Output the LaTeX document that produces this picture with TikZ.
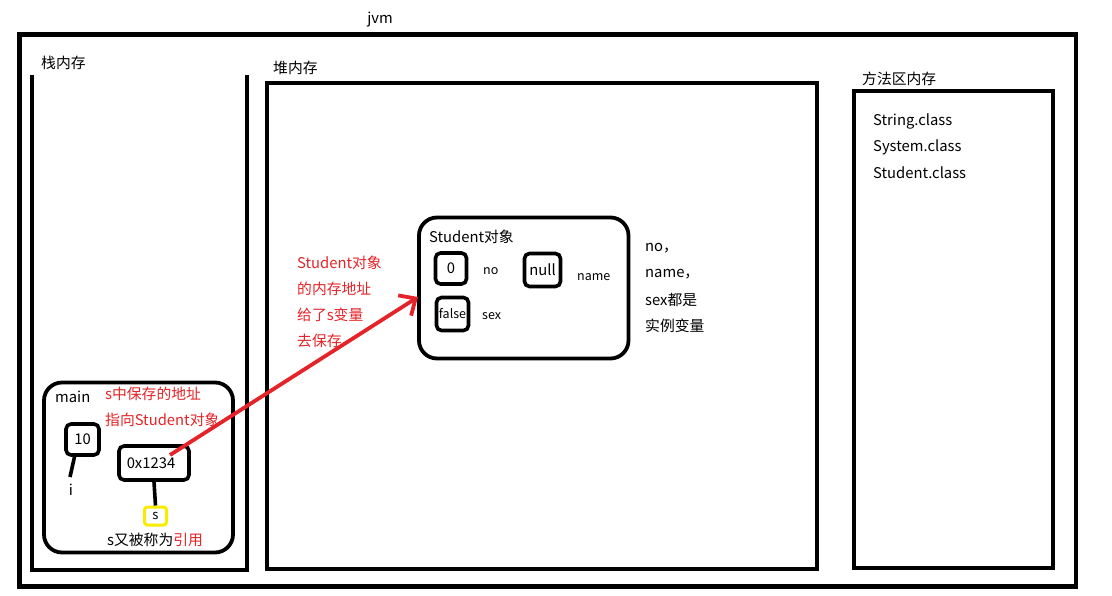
\documentclass[tikz,border=0pt]{standalone}
\usepackage{fontspec}
\setmainfont{Noto Sans CJK SC}
\usetikzlibrary{arrows.meta}
\definecolor{myred}{RGB}{228,36,40}
\definecolor{myyellow}{RGB}{250,235,0}
\tikzset{
  frame/.style={draw=black,line width=4.5pt},
  txt/.style={font=\fontsize{14.8}{16}\selectfont,inner sep=0pt,anchor=west},
  small/.style={font=\fontsize{12.5}{14}\selectfont,inner sep=0pt,anchor=west},
  rtxt/.style={txt,text=myred},
  cell/.style={draw=black,line width=3.6pt,rounded corners=5pt,inner sep=0pt,font=\fontsize{14.8}{16}\selectfont},
  stem/.style={draw=black,line width=3.6pt},
  ptr/.style={draw=myred,line width=3.8pt,-{Straight Barb[length=13pt,width=24pt,line width=3.8pt]}}
}
\begin{document}
\begin{tikzpicture}[x=1pt,y=-1pt]
\useasboundingbox[fill=white] (0,0) rectangle (1112,595);
% outer jvm
\draw[frame] (19.5,34.5) rectangle (1076,586.5);
\node[txt,anchor=center] (jvm) at (380,20) {jvm};
% stack
\draw[frame,line width=4pt] (32,75) -- (32,569.5) -- (246.5,569.5) -- (246.5,75);
\node[txt] (stackl) at (41,63) {栈内存};
% heap
\draw[frame,line width=4pt] (267,83) rectangle (817,568.5);
\node[txt] (heapl) at (273,68) {堆内存};
% method area
\draw[frame,line width=4pt] (853.5,91) rectangle (1053,567.5);
\node[txt] (methl) at (862,79) {方法区内存};
\node[txt] (c1) at (873,121) {String.class};
\node[txt] (c2) at (873,147) {System.class};
\node[txt] (c3) at (873,173) {Student.class};
% Student object
\draw[frame,line width=3.8pt,rounded corners=18pt] (419,217.5) rectangle (628.5,358.5);
\coordinate (objw) at (418,297);
\node[txt] (objl) at (429,237) {Student对象};
\node[cell,minimum width=31pt,minimum height=31pt] (no) at (451,268.5) {0};
\node[small] (nol) at (483,271) {no};
\node[cell,minimum width=36pt,minimum height=33pt] (name) at (542.5,270) {null};
\node[small] (namel) at (577,277) {name};
\node[cell,minimum width=32pt,minimum height=33pt,font=\fontsize{12.5}{14}\selectfont] (sex) at (452.5,314) {false};
\node[small] (sexl) at (482,316) {sex};
\node[txt] (r1) at (645,248) {no，};
\node[txt] (r2) at (645,274) {name，};
\node[txt] (r3) at (645,300) {sex都是};
\node[txt] (r4) at (645,326) {实例变量};
% red note
\node[rtxt] (n1) at (297,263) {Student对象};
\node[rtxt] (n2) at (297,289) {的内存地址};
\node[rtxt] (n3) at (297,315) {给了s变量};
\node[rtxt] (n4) at (297,341) {去保存};
% main frame
\draw[frame,line width=3.8pt,rounded corners=18pt] (44,382.5) rectangle (233,552.5);
\node[txt] (mainl) at (55,397) {main};
\node[rtxt] (m1) at (105,394) {s中保存的地址};
\node[rtxt] (m2) at (105,420) {指向Student对象};
\node[cell,minimum width=33pt,minimum height=31pt] (ten) at (82.5,439.5) {10};
\node[txt,anchor=center] (il) at (71,490) {i};
\draw[stem] (ten.south) ++(-8,0) coordinate (ts) -- (70,477) coordinate (te);
\node[cell,minimum width=70pt,minimum height=34pt] (addr) at (154,463) {0x1234\hspace*{6pt}};
\node[draw=myyellow,line width=3pt,rounded corners=3pt,minimum width=22pt,minimum height=18pt,inner sep=0pt,font=\fontsize{13}{14}\selectfont] (s) at (155.5,516) {s};
\draw[stem] (addr.south) -- (s.north);
\node[txt] (ref) at (107,540) {s又被称为\textcolor{myred}{引用}};
% pointer arrow
\coordinate (ptrs) at (170,455);
\draw[ptr] (ptrs) -- (objw);
\end{tikzpicture}
\end{document}
